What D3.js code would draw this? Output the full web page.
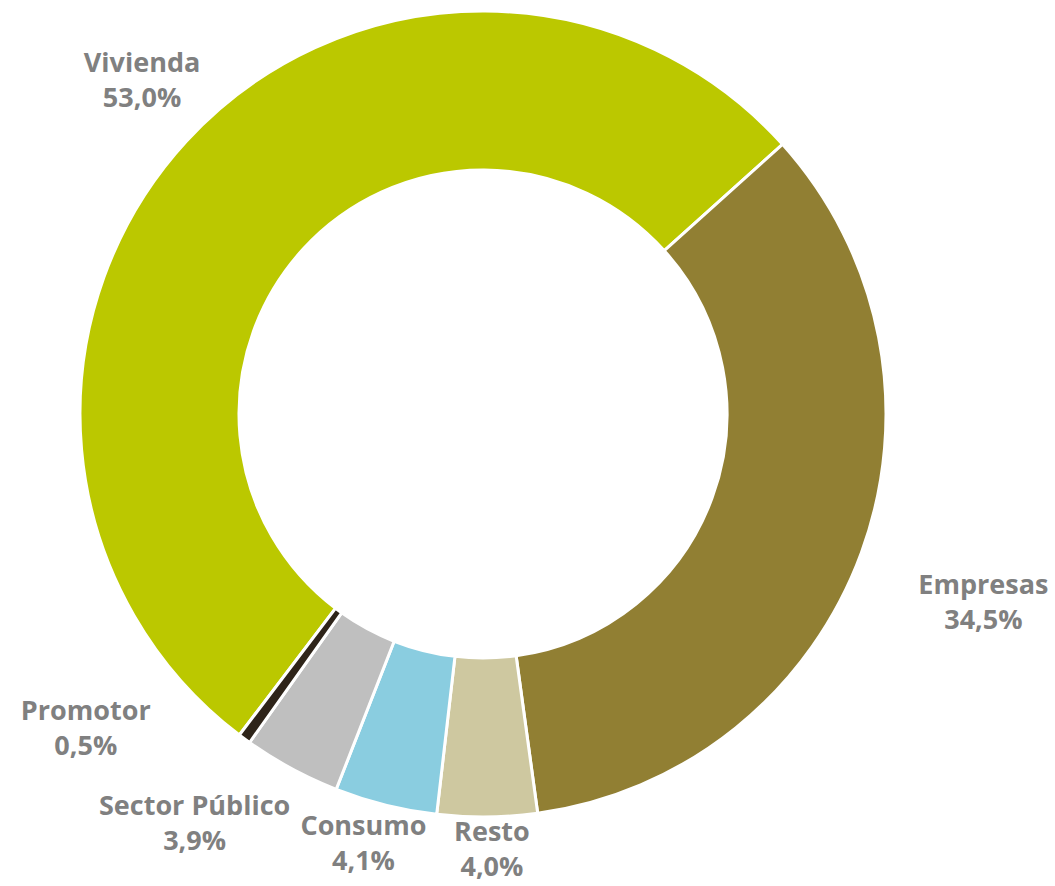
<!DOCTYPE html>
<html lang="es">
<head>
<meta charset="UTF-8">
<title>Donut</title>
<script src="https://d3js.org/d3.v7.min.js"></script>
<style>
  body { margin: 0; background: #fff; }
  text { font-family: "Open Sans", Roboto, sans-serif; font-weight: 700; fill: #808080; }
</style>
</head>
<body>
<div id="chart"></div>
<script>
// data
const categories = ["Vivienda", "Empresas", "Resto", "Consumo", "Sector Público", "Promotor"];
const values = [53.0, 34.5, 4.0, 4.1, 3.9, 0.5];
const colors = ["#bbc800", "#917f33", "#cec8a0", "#8acde0", "#bfbfbf", "#2e2419"];

// label nudges relative to the arc centroid
const nudges = {
  "Vivienda": [5, -16],
  "Empresas": [59, 26],
  "Resto": [4, -35],
  "Consumo": [-6, -27],
  "Sector Público": [-65, -5],
  "Promotor": [-119, -65]
};

const width = 1055, height = 886;
const cx = 483, cy = 414;
const outerR = 403, innerR = 244;

const svg = d3.select("#chart").append("svg")
  .attr("width", width)
  .attr("height", height);

const g = svg.append("g").attr("transform", `translate(${cx},${cy})`);

const rad = Math.PI / 180;
const endOfFirst = 48 * rad;
const total = d3.sum(values);
const startA = endOfFirst - values[0] / total * 2 * Math.PI;

const pie = d3.pie()
  .sort(null)
  .value((d, i) => values[i])
  .startAngle(startA)
  .endAngle(startA + 2 * Math.PI);

const arcs = pie(categories);

const arc = d3.arc().innerRadius(innerR).outerRadius(outerR);
const labelArc = d3.arc().innerRadius(470).outerRadius(470);

g.selectAll("path")
  .data(arcs)
  .join("path")
  .attr("d", arc)
  .attr("fill", (d, i) => colors[i])
  .attr("stroke", "#fff")
  .attr("stroke-width", 3)
  .attr("stroke-linejoin", "miter");

const fmt = v => v.toFixed(1).replace(".", ",") + "%";

const labels = g.selectAll("text.lbl")
  .data(arcs)
  .join("text")
  .attr("class", "lbl")
  .attr("text-anchor", "middle")
  .attr("font-size", 27)
  .attr("transform", d => {
    const c = labelArc.centroid(d);
    const n = nudges[d.data];
    return `translate(${c[0] + n[0]},${c[1] + n[1]})`;
  });

labels.append("tspan").attr("x", 0).attr("y", -8).text(d => d.data);
labels.append("tspan").attr("x", 0).attr("y", 27).text(d => fmt(d.value));
</script>
</body>
</html>
